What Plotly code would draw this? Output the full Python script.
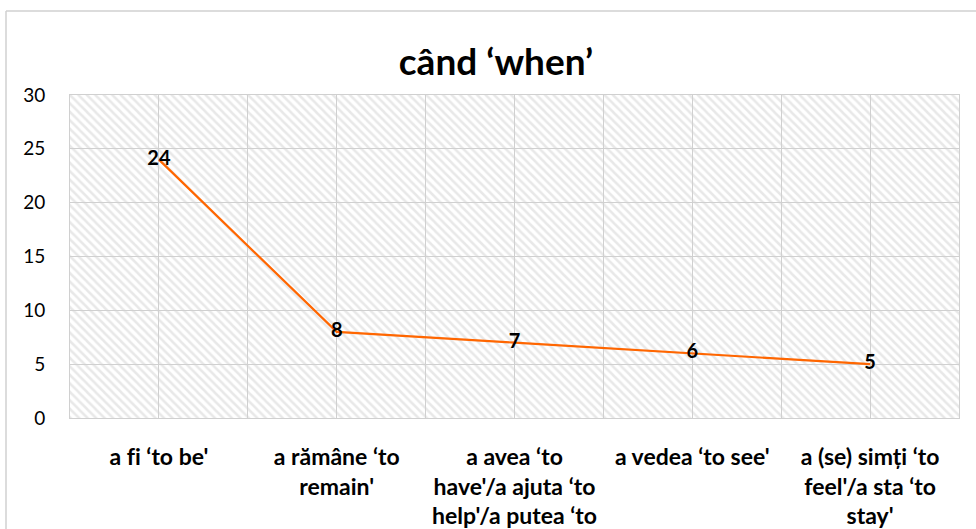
import plotly.graph_objects as go

# ---- data ----
categories = [
    "a f\u200ci ‘to be'",
    "a rămâne ‘to<br>remain'",
    "a avea ‘to<br>have'/a ajuta ‘to<br>help'/a putea ‘to",
    "a vedea ‘to see'",
    "a (se) simți ‘to<br>feel'/a sta ‘to<br>stay'",
]
values = [24, 8, 7, 6, 5]
y_ticks = [0, 5, 10, 15, 20, 25, 30]
title_text = "când ‘when’"

FONT = "Lato, 'Open Sans', sans-serif"
GRID = "#d0d0d0"

x_idx = list(range(len(categories)))
half_steps = [i - 0.5 for i in range(len(categories) + 1)]

fig = go.Figure()

# hatched plot-area background (own subplot, drawn underneath the data subplot)
fig.add_trace(go.Bar(
    x=[0.5], y=[1], width=[1], xaxis="x", yaxis="y",
    marker=dict(color="white", line=dict(width=0),
                pattern=dict(shape="\\", fgcolor="#d2d2d2", bgcolor="white",
                             size=6, solidity=0.42)),
    hoverinfo="skip", showlegend=False,
))

fig.add_trace(go.Scatter(
    x=x_idx, y=values, xaxis="x2", yaxis="y2",
    mode="lines+text",
    text=[str(v) for v in values],
    textposition="middle center",
    textfont=dict(family=FONT, size=20, color="black", weight="bold"),
    line=dict(color="#ff6600", width=2.2),
    showlegend=False,
))

fig.update_layout(
    width=976, height=529,
    margin=dict(l=70, r=17, t=95, b=111),
    paper_bgcolor="white",
    plot_bgcolor="rgba(0,0,0,0)",
    font=dict(family=FONT, color="black"),
    title=dict(text=title_text, x=496 / 976, xref="container", xanchor="center",
               y=1 - 62 / 529, yref="container", yanchor="middle",
               font=dict(family=FONT, size=37, color="black", weight="bold")),
    xaxis=dict(domain=[0, 1], range=[0, 1], visible=False, fixedrange=True,
               automargin=False),
    yaxis=dict(domain=[0, 1], range=[0, 1], visible=False, fixedrange=True,
               automargin=False),
    xaxis2=dict(domain=[0, 1], anchor="y2", range=[-0.5, len(categories) - 0.5],
                tickvals=x_idx, ticktext=categories,
                tickfont=dict(family=FONT, size=23, color="black", weight="bold"),
                showgrid=True, gridcolor=GRID, gridwidth=1,
                minor=dict(tickvals=half_steps, showgrid=True, gridcolor=GRID, gridwidth=1),
                showline=True, mirror=True, linecolor=GRID, linewidth=1,
                zeroline=False, ticks="", ticklabelstandoff=18, automargin=False),
    yaxis2=dict(domain=[0, 1], anchor="x2", range=[0, 30],
                tickvals=y_ticks,
                tickfont=dict(family=FONT, size=19, color="black"),
                showgrid=True, gridcolor=GRID, gridwidth=1,
                showline=True, mirror=True, linecolor=GRID, linewidth=1,
                zeroline=False, ticks="", ticklabelstandoff=20, automargin=False),
    shapes=[
        dict(type="line", xref="paper", yref="paper", x0=(6 - 70) / 889, x1=1.2,
             y0=(418 - 11) / 323, y1=(418 - 11) / 323,
             line=dict(color="#d0d0d0", width=1.5)),
        dict(type="line", xref="paper", yref="paper", x0=(6 - 70) / 889, x1=(6 - 70) / 889,
             y0=(418 - 11) / 323, y1=-0.6,
             line=dict(color="#d0d0d0", width=1.5)),
    ],
)

fig.write_html("out.html", config={"displayModeBar": False},
               post_script="document.body.style.margin='0';")
